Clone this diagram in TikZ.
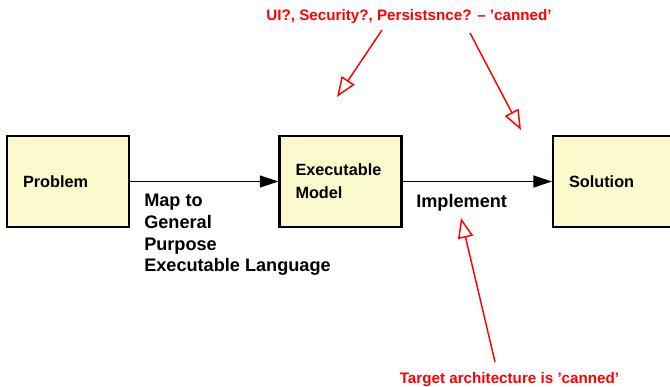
\documentclass[tikz,border=0pt]{standalone}
\usepackage{fontspec}
\setmainfont{Liberation Sans}
\usetikzlibrary{arrows.meta}
\definecolor{boxfill}{RGB}{250,250,204}
\definecolor{annred}{RGB}{255,0,0}
\begin{document}
\begin{tikzpicture}[x=0.75pt,y=-0.75pt,
  box/.style={draw=black,line width=1.6pt,fill=boxfill,minimum width=91.5pt,minimum height=68.25pt,
    text width=67.5pt,inner xsep=12pt,align=left,font=\fontsize{12.2}{17}\selectfont\bfseries},
  lbl/.style={inner sep=0pt,align=left,font=\fontsize{13.6}{16.3}\selectfont\bfseries},
  note/.style={inner sep=0pt,text=annred,font=\fontsize{11.4}{14}\selectfont\bfseries},
  flow/.style={draw=black,line width=1.2pt,-{Triangle[length=14pt,width=9pt]}},
  ann/.style={draw=annred,line width=1.1pt,-{Triangle[open,length=15pt,width=11.5pt]}}]
\useasboundingbox (0,0) rectangle (670,386);
\clip (0,0) rectangle (670,386);
\node[box] (prob) at (68,181.5) {Problem};
\node[box] (exec) at (340.5,181.5) {Executable\\Model};
\node[box,anchor=west] (sol) at (552,181.5) {Solution};
\draw[flow] (prob.east |- 0,181.5) -- (exec.west |- 0,181.5);
\draw[flow] (exec.east |- 0,181.5) -- (sol.west |- 0,181.5);
\node[lbl,anchor=north west] (map) at (144,194) {Map to\\General\\Purpose\\Executable Language};
\node[lbl,anchor=base west] (impl) at (416,207) {Implement};
\node[note,anchor=base] (top) at (409,20) {UI?, Security?, Persistsnce? -- ’canned’};
\node[note,anchor=base] (bot) at (509.5,383) {Target architecture is ’canned’};
\coordinate (t1) at (382,30);
\coordinate (h1) at (337,97);
\coordinate (t2) at (470,33);
\coordinate (h2) at (521,130);
\coordinate (t3) at (495,362);
\coordinate (h3) at (461,218);
\draw[ann] (t1) -- (h1);
\draw[ann] (t2) -- (h2);
\draw[ann] (t3) -- (h3);
\end{tikzpicture}
\end{document}
